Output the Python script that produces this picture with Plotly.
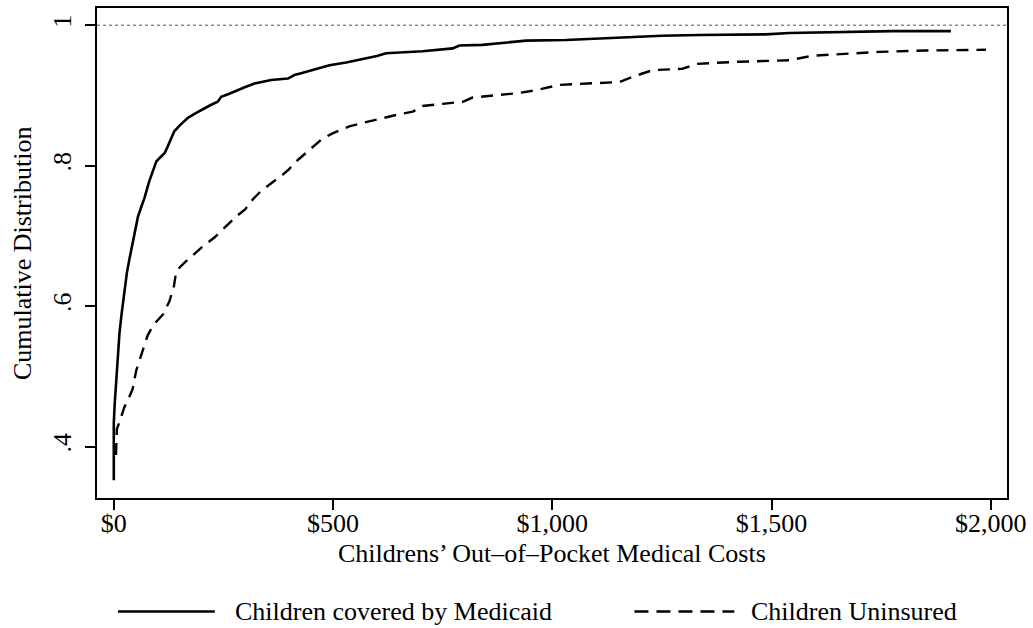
import plotly.graph_objects as go

# Empirical CDFs of children's out-of-pocket medical costs
medicaid_cost = [0, 0, 2, 5, 9, 13, 18, 24, 30, 36, 45, 55, 62, 70, 81, 90, 97, 108,
                 116, 122, 127, 138, 150, 169, 185, 199, 220, 237, 245, 262, 283, 300,
                 321, 340, 359, 397, 412, 423, 450, 492, 530, 575, 600, 621, 660, 704,
                 773, 788, 840, 879, 940, 1031, 1100, 1153, 1250, 1335, 1420, 1487,
                 1540, 1650, 1776, 1909]
medicaid_cdf = [0.352, 0.433, 0.460, 0.492, 0.530, 0.562, 0.590, 0.622, 0.648, 0.668,
                0.695, 0.727, 0.740, 0.754, 0.778, 0.795, 0.806, 0.813, 0.818, 0.826,
                0.834, 0.849, 0.857, 0.868, 0.874, 0.879, 0.886, 0.891, 0.898, 0.902,
                0.908, 0.912, 0.917, 0.920, 0.922, 0.924, 0.929, 0.931, 0.936, 0.943,
                0.947, 0.953, 0.956, 0.960, 0.961, 0.963, 0.967, 0.971, 0.972, 0.974,
                0.978, 0.979, 0.981, 0.983, 0.985, 0.986, 0.986, 0.987, 0.989, 0.990,
                0.9915, 0.9915]

uninsured_cost = [5, 7, 13, 24, 35, 43, 51, 58, 66, 77, 90, 100, 112, 127, 137, 142,
                  150, 165, 185, 203, 230, 250, 264, 280, 300, 317, 336, 360, 385, 400,
                  410, 427, 454, 475, 499, 537, 575, 613, 650, 682, 704, 750, 796, 818,
                  870, 917, 960, 1016, 1080, 1153, 1190, 1229, 1297, 1330, 1426, 1540,
                  1593, 1680, 1745, 1850, 1989]
uninsured_cdf = [0.388, 0.425, 0.435, 0.456, 0.470, 0.482, 0.508, 0.522, 0.537, 0.558,
                 0.573, 0.580, 0.588, 0.607, 0.628, 0.648, 0.655, 0.664, 0.675, 0.685,
                 0.698, 0.710, 0.719, 0.728, 0.738, 0.752, 0.764, 0.775, 0.787, 0.795,
                 0.803, 0.812, 0.827, 0.838, 0.846, 0.856, 0.862, 0.868, 0.873, 0.877,
                 0.885, 0.888, 0.891, 0.897, 0.900, 0.903, 0.907, 0.915, 0.917, 0.919,
                 0.928, 0.936, 0.938, 0.945, 0.948, 0.950, 0.9565, 0.960, 0.962, 0.964,
                 0.965]

x_ticks = [0, 500, 1000, 1500, 2000]
x_tick_labels = ["$0", "$500", "$1,000", "$1,500", "$2,000"]
y_ticks = [0.4, 0.6, 0.8, 1.0]
y_tick_labels = [".4", ".6", ".8", "1"]

series_names = ["Children covered by Medicaid", "Children Uninsured"]
x_title = "Childrens\u2019 Out\u2013of\u2013Pocket Medical Costs"
y_title = "Cumulative Distribution"

FONT = "Liberation Serif, Times New Roman, serif"
DASH = "12px,8px"
text_font = dict(family=FONT, size=26, color="black")
x_range = [-38.3, 2037]

fig = go.Figure()
fig.add_trace(go.Scatter(x=medicaid_cost, y=medicaid_cdf, mode="lines",
                         name=series_names[0],
                         line=dict(color="black", width=2.6)))
# Second series sits on an overlay x axis with the same range; that axis carries
# the dollar labels close to the frame while the main axis draws the tick marks.
fig.add_trace(go.Scatter(x=uninsured_cost, y=uninsured_cdf, mode="lines",
                         name=series_names[1], xaxis="x2", yaxis="y",
                         line=dict(color="black", width=2.4, dash=DASH)))

# Reference line at a cumulative share of one
fig.add_shape(type="line", xref="paper", yref="y", x0=0, x1=1, y0=1, y1=1,
              line=dict(color="#8c8c8c", width=1.5, dash="dot"))

# Axis titles
fig.add_annotation(xref="paper", yref="paper", x=0.5, y=-0.1138, text=x_title,
                   showarrow=False, xanchor="center", yanchor="middle", font=text_font)
fig.add_annotation(xref="paper", yref="paper", x=-0.0823, y=0.5, text=y_title,
                   textangle=-90, showarrow=False, xanchor="center", yanchor="middle",
                   font=text_font)

# Legend drawn below the axis title
legend_y = -0.2317
fig.add_shape(type="line", xref="paper", yref="paper", x0=0.0231, x1=0.1295,
              y0=legend_y, y1=legend_y, line=dict(color="black", width=2.6))
fig.add_shape(type="line", xref="paper", yref="paper", x0=0.5906, x1=0.7003,
              y0=legend_y, y1=legend_y, line=dict(color="black", width=2.4, dash="14px,8px"))
fig.add_annotation(xref="paper", yref="paper", x=0.1493, y=legend_y, text=series_names[0],
                   showarrow=False, xanchor="left", yanchor="middle", font=text_font)
fig.add_annotation(xref="paper", yref="paper", x=0.7168, y=legend_y, text=series_names[1],
                   showarrow=False, xanchor="left", yanchor="middle", font=text_font)

axis_common = dict(showgrid=False, zeroline=False, showline=True, linecolor="black",
                   linewidth=2, mirror=True, ticks="outside", ticklen=10, tickwidth=1.5,
                   tickcolor="black", tickfont=text_font)

fig.update_xaxes(range=x_range, tickvals=x_ticks, showticklabels=False, **axis_common)
fig.update_yaxes(range=[0.3267, 1.0245], tickvals=y_ticks, ticktext=y_tick_labels,
                 tickangle=-90, ticklabelstandoff=4, **axis_common)

fig.update_layout(
    xaxis2=dict(overlaying="x", anchor="y", side="bottom", range=x_range,
                tickvals=x_ticks, ticktext=x_tick_labels, ticks="",
                showline=False, showgrid=False, zeroline=False,
                ticklabelstandoff=7, tickfont=text_font),
    width=1033, height=628,
    margin=dict(l=97, r=25, t=6, b=130),
    paper_bgcolor="white", plot_bgcolor="white",
    showlegend=False,
    font=text_font)

fig.write_html("out.html", config={"displayModeBar": False})
